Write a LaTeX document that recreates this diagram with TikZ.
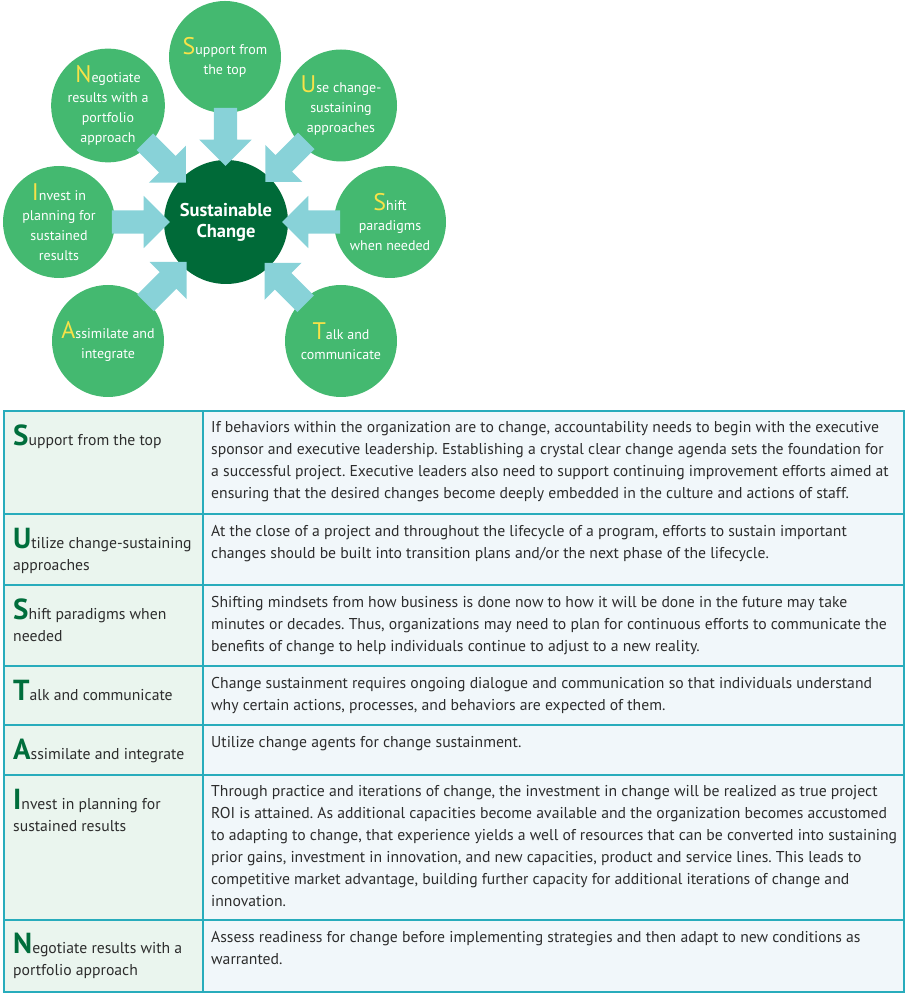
\documentclass[tikz,border=0pt]{standalone}
\usepackage{fontspec}
\setmainfont{PT Sans}
\frenchspacing
\usetikzlibrary{shapes.arrows,calc}
\definecolor{ringgreen}{RGB}{68,185,112}
\definecolor{coregreen}{RGB}{0,106,56}
\definecolor{arrowblue}{RGB}{136,210,216}
\definecolor{inityellow}{RGB}{248,226,72}
\definecolor{tablegreen}{RGB}{0,110,60}
\definecolor{tableline}{RGB}{40,172,188}
\definecolor{leftfill}{RGB}{234,245,238}
\definecolor{rightfill}{RGB}{241,247,250}
\definecolor{bodytext}{RGB}{45,45,45}
\newcommand{\cinit}[1]{{\fontsize{24}{20}\selectfont\color{inityellow}#1}}
\newcommand{\tinit}[1]{{\bfseries\fontsize{29}{22}\selectfont\color{tablegreen}#1}}
\tikzset{
  ring/.style={circle,fill=ringgreen,minimum size=112pt,inner sep=0pt,align=center,text=white,font=\fontsize{14}{20}\selectfont},
  core/.style={circle,fill=coregreen,minimum size=124pt,inner sep=0pt,align=center,text=white,font=\bfseries\fontsize{18.5}{21}\selectfont},
  push/.style={single arrow,fill=arrowblue,minimum height=58pt,inner xsep=0pt,inner ysep=11.5pt,single arrow head extend=14.5pt,single arrow tip angle=90},
  cell/.style={anchor=base west,align=left,inner sep=0pt,text=bodytext,font=\fontsize{15.7}{22}\selectfont}
}
\begin{document}
\begin{tikzpicture}[x=1pt,y=1pt]
  \useasboundingbox (0,0) rectangle (905,993);
  % circles
  \node (Core) at (226,771) [core] {Sustainable\\Change};
  \node (Sup) at (225,936) [ring] {\cinit{S}upport from\\the top};
  \node (Use) at (341,887.5) [ring] {\cinit{U}se change-\\sustaining\\approaches};
  \node (Shift) at (390,771) [ring] {\cinit{S}hift\\paradigms\\when needed};
  \node (Talk) at (341,652) [ring] {\cinit{T}alk and\\communicate};
  \node (Assim) at (108,652) [ring] {\cinit{A}ssimilate and\\integrate};
  \node (Invest) at (59,771) [ring] {\cinit{I}nvest in\\planning for\\sustained\\results};
  \node (Negot) at (108,887.5) [ring] {\cinit{N}egotiate\\results with a\\portfolio\\approach};
  % arrows into the core
  \node (ArSup) at ($(Core)!91pt!(Sup)$) [push,rotate=270] {};
  \node (ArUse) at ($(Core)!91pt!(Use)$) [push,rotate=225] {};
  \node (ArShift) at ($(Core)!91pt!(Shift)$) [push,rotate=180] {};
  \node (ArTalk) at ($(Core)!91pt!(Talk)$) [push,rotate=135] {};
  \node (ArAssim) at ($(Core)!91pt!(Assim)$) [push,rotate=45] {};
  \node (ArInvest) at ($(Core)!91pt!(Invest)$) [push,rotate=0] {};
  \node (ArNegot) at ($(Core)!91pt!(Negot)$) [push,rotate=315] {};
  % table
  \fill[leftfill] (4,1) rectangle (203,582);
  \fill[rightfill] (203,1) rectangle (904,582);
  \draw[tableline,line width=1.2pt] (4,1) rectangle (904,582);
  \draw[tableline,line width=1.2pt] (203,1) -- (203,582);
  \draw[tableline,line width=1.2pt] (4,479) -- (904,479) (4,408) -- (904,408) (4,327) -- (904,327)
    (4,268) -- (904,268) (4,218) -- (904,218) (4,73) -- (904,73);
  % base anchor sits on the last line
  \node (L1) at (13,547) [cell] {\tinit{S}upport from the top};
  \node (L2) at (13,422) [cell] {\tinit{U}tilize change-sustaining\\approaches};
  \node (L3) at (13,351) [cell] {\tinit{S}hift paradigms when\\needed};
  \node (L4) at (13,292) [cell] {\tinit{T}alk and communicate};
  \node (L5) at (13,233) [cell] {\tinit{A}ssimilate and integrate};
  \node (L6) at (13,161) [cell] {\tinit{I}nvest in planning for\\sustained results};
  \node (L7) at (13,17) [cell] {\tinit{N}egotiate results with a\\portfolio approach};
  \node (D1) at (211,494) [cell] {If behaviors within the organization are to change, accountability needs to begin with the executive\\
    sponsor and executive leadership. Establishing a crystal clear change agenda sets the foundation for\\
    a successful project. Executive leaders also need to support continuing improvement efforts aimed at\\
    ensuring that the desired changes become deeply embedded in the culture and actions of staff.};
  \node (D2) at (211,434) [cell] {At the close of a project and throughout the lifecycle of a program, efforts to sustain important\\
    changes should be built into transition plans and/or the next phase of the lifecycle.};
  \node (D3) at (211,341) [cell] {Shifting mindsets from how business is done now to how it will be done in the future may take\\
    minutes or decades. Thus, organizations may need to plan for continuous efforts to communicate the\\
    benefits of change to help individuals continue to adjust to a new reality.};
  \node (D4) at (211,282) [cell] {Change sustainment requires ongoing dialogue and communication so that individuals understand\\
    why certain actions, processes, and behaviors are expected of them.};
  \node (D5) at (211,245) [cell] {Utilize change agents for change sustainment.};
  \node (D6) at (211,86) [cell] {Through practice and iterations of change, the investment in change will be realized as true project\\
    ROI is attained. As additional capacities become available and the organization becomes accustomed\\
    to adapting to change, that experience yields a well of resources that can be converted into sustaining\\
    prior gains, investment in innovation, and new capacities, product and service lines. This leads to\\
    competitive market advantage, building further capacity for additional iterations of change and\\
    innovation.};
  \node (D7) at (211,28) [cell] {Assess readiness for change before implementing strategies and then adapt to new conditions as\\
    warranted.};
\end{tikzpicture}
\end{document}
